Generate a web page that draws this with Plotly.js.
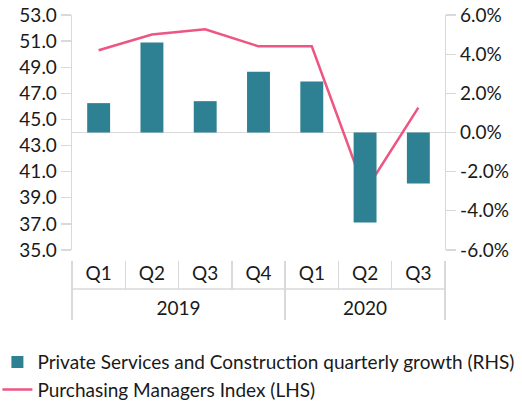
<!DOCTYPE html>
<html>
<head>
<meta charset="utf-8">
<script src="https://cdn.plot.ly/plotly-3.0.1.min.js"></script>
<style>html,body{margin:0;padding:0;background:#fff;}#chart{width:522px;height:403px;}</style>
</head>
<body>
<div id="chart"></div>
<script>
const years = ['2019','2019','2019','2019','2020','2020','2020'];
const quarters = ['Q1','Q2','Q3','Q4','Q1','Q2','Q3'];
const growthPct = [1.5, 4.6, 1.6, 3.1, 2.6, -4.6, -2.6];
const pmi = [50.3, 51.5, 51.9, 50.6, 50.6, 39.5, 45.9];
const pctTickVals = [-6, -4, -2, 0, 2, 4, 6];
const pctTickText = ['-6.0%', '-4.0%', '-2.0%', '0.0%', '2.0%', '4.0%', '6.0%'];

const FONT = 'Lato, "Open Sans", sans-serif';
const FS = 19;
const GRID = '#d9d9d9';
const TXT = '#1a1a1a';

// pad the quarter labels with tall invisible spaces so the year row sits lower
const PAD = '<span style="font-size:27px">\u00A0</span>';
const quarterLabels = quarters.map(q => PAD + q + PAD);

const traces = [
  {
    type: 'bar',
    name: 'Private Services and Construction quarterly growth (RHS)',
    x: [years, quarterLabels],
    y: growthPct,
    yaxis: 'y2',
    marker: {color: '#2E8192'},
    hoverinfo: 'skip'
  },
  {
    type: 'scatter',
    mode: 'lines',
    name: 'Purchasing Managers Index (LHS)',
    x: [years, quarterLabels],
    y: pmi,
    yaxis: 'y',
    line: {color: '#EE5582', width: 2.5},
    hoverinfo: 'skip'
  }
];

const layout = {
  width: 522, height: 403,
  margin: {l: 72, r: 77, t: 15, b: 143, autoexpand: false},
  paper_bgcolor: '#fff', plot_bgcolor: 'rgba(0,0,0,0)',
  font: {family: FONT, size: FS, color: TXT},
  showlegend: true,
  bargap: 0.57,
  xaxis: {
    type: 'multicategory',
    anchor: 'free', position: 0, automargin: false,
    showline: false,
    ticks: 'outside', tickson: 'boundaries', ticklen: 29, tickcolor: GRID, tickwidth: 1.3,
    showdividers: true, dividercolor: GRID, dividerwidth: 1.3,
    showgrid: false, zeroline: false,
    tickfont: {family: FONT, size: FS, color: TXT}
  },
  yaxis: {
    domain: [0.0408, 1], automargin: false,
    range: [35, 53], tick0: 35, dtick: 2, tickformat: '.1f',
    showline: true, linecolor: GRID, linewidth: 1.3,
    ticks: 'outside', ticklen: 10, tickcolor: GRID, tickwidth: 1.3,
    showgrid: false, zeroline: false,
    tickfont: {family: FONT, size: FS, color: TXT}
  },
  yaxis2: {
    overlaying: 'y', side: 'right', automargin: false,
    range: [-6, 6], tickmode: 'array', tickvals: pctTickVals, ticktext: pctTickText,
    showline: true, linecolor: GRID, linewidth: 1.3,
    ticks: 'outside', ticklen: 10, tickcolor: GRID, tickwidth: 1.3,
    showgrid: false, zeroline: true, zerolinecolor: GRID, zerolinewidth: 1.5,
    tickfont: {family: FONT, size: FS, color: TXT}
  },
  shapes: [
    {type: 'line', xref: 'paper', yref: 'paper', x0: 0, x1: 1, y0: -0.1184, y1: -0.1184,
     line: {color: GRID, width: 1.3}}
  ],
  legend: {
    x: -0.2, xanchor: 'left', y: -0.339, yanchor: 'top',
    orientation: 'v', traceorder: 'normal',
    font: {family: FONT, size: FS, color: TXT},
    itemwidth: 30, tracegroupgap: 0, bgcolor: 'rgba(0,0,0,0)'
  }
};

Plotly.newPlot('chart', traces, layout, {displayModeBar: false, staticPlot: true});
</script>
</body>
</html>
